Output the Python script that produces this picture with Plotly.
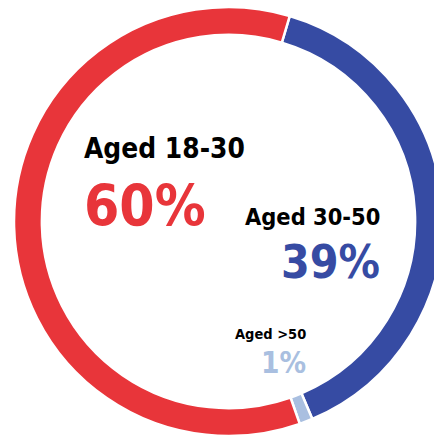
import plotly.graph_objects as go

# Data (in drawing order, clockwise from the top-right seam)
labels = ["Aged 30-50", "Aged >50", "Aged 18-30"]
values = [39, 1, 60]
colors = ["#364BA3", "#A9BFE0", "#E8353A"]

W, H = 450, 438
FONT = "DejaVu Sans Condensed, Liberation Sans Narrow, Arial Narrow, sans-serif"

fig = go.Figure(go.Pie(
    labels=labels, values=values, sort=False, direction="clockwise",
    rotation=16.6, hole=0.87, textinfo="none", hoverinfo="label+percent",
    marker=dict(colors=colors, line=dict(color="white", width=2.5)),
    domain=dict(x=[14 / W, 443 / W], y=[2 / H, 431 / H]),
    showlegend=False,
))

total = sum(values)
pct = {l: f"{round(v * 100 / total)}%" for l, v in zip(labels, values)}
col = dict(zip(labels, colors))

# (label, x_px, label_cy, pct_cy, anchor, label_size, pct_size)
placements = [
    ("Aged 18-30", 83, 149, 206, "left", 27.8, 56.5),
    ("Aged 30-50", 381, 216.5, 261.5, "right", 23.4, 46),
    ("Aged >50", 307, 334, 363, "right", 14.5, 29.5),
]
for lab, xp, ly, py, anc, ls, ps in placements:
    fig.add_annotation(x=xp / W, y=1 - ly / H, xref="paper", yref="paper",
                       text=f"<b>{lab}</b>", showarrow=False, xanchor=anc, yanchor="middle",
                       font=dict(family=FONT, size=ls, color="#000000"), borderpad=0)
    fig.add_annotation(x=xp / W, y=1 - py / H, xref="paper", yref="paper",
                       text=f"<b>{pct[lab]}</b>", showarrow=False, xanchor=anc, yanchor="middle",
                       font=dict(family=FONT, size=ps, color=col[lab]), borderpad=0)

fig.update_layout(width=W, height=H, autosize=False, margin=dict(l=0, r=0, t=0, b=0),
                  paper_bgcolor="white", plot_bgcolor="white")

fig.write_html("out.html", config={"displayModeBar": False},
               post_script="document.body.style.margin='0';document.body.style.overflow='hidden';document.documentElement.style.overflow='hidden';")
